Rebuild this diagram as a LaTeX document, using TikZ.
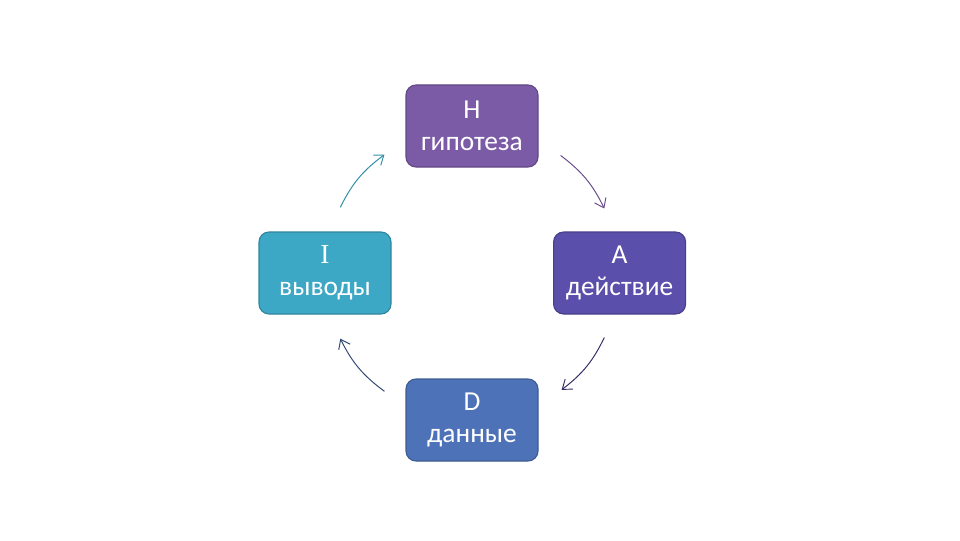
\documentclass[tikz,border=0pt]{standalone}
\usepackage{fontspec}
\setmainfont{Carlito}
\newfontfamily\letterfont{Liberation Serif}
\usetikzlibrary{arrows.meta}

\definecolor{hypcol}{HTML}{7B5BA6}
\definecolor{actcol}{HTML}{5A4FAA}
\definecolor{datcol}{HTML}{4E72B8}
\definecolor{infcol}{HTML}{3CA8C6}

\tikzset{
  stage/.style={draw, rounded corners=0.25cm, minimum width=3.3cm,
    minimum height=2.05cm, text=white, align=center, line width=0.8pt,
    font=\fontsize{19.5}{22.7}\selectfont},
  cycarrow/.style={-{Straight Barb[length=6pt,width=9pt]}, line width=0.7pt}
}

\begin{document}
\begin{tikzpicture}
  \useasboundingbox (0,0) rectangle (24,13.5);
  \begin{scope}[shift={(11.8,6.675)}]
    \draw
      (90:3.675) node[stage, fill=hypcol, draw=hypcol!80!black] (h) {H\\гипотеза}
      (0:3.69) node[stage, fill=actcol, draw=actcol!80!black] (a) {A\\действие}
      (270:3.675) node[stage, fill=datcol, draw=datcol!80!black] (d) {D\\данные}
      (180:3.675) node[stage, fill=infcol, draw=infcol!80!black] (i) {{\letterfont I}\\выводы};
    % points on the cycle
    \coordinate (ha1) at (53:3.68);
    \coordinate (ha2) at (26:3.68);
    \coordinate (ad1) at (-26:3.68);
    \coordinate (ad2) at (-52.5:3.68);
    \coordinate (di1) at (-126.5:3.68);
    \coordinate (di2) at (-153.5:3.68);
    \coordinate (ih1) at (153.5:3.68);
    \coordinate (ih2) at (126.5:3.68);
    \begin{scope}[cycarrow]
      \draw[color=hypcol!85!black] (ha1) to[bend left=13.5] (ha2);
      \draw[color=actcol!60!black] (ad1) to[bend left=13.5] (ad2);
      \draw[color=datcol!65!black] (di1) to[bend left=13.5] (di2);
      \draw[color=infcol!85!black] (ih1) to[bend left=13.5] (ih2);
    \end{scope}
  \end{scope}
\end{tikzpicture}
\end{document}
